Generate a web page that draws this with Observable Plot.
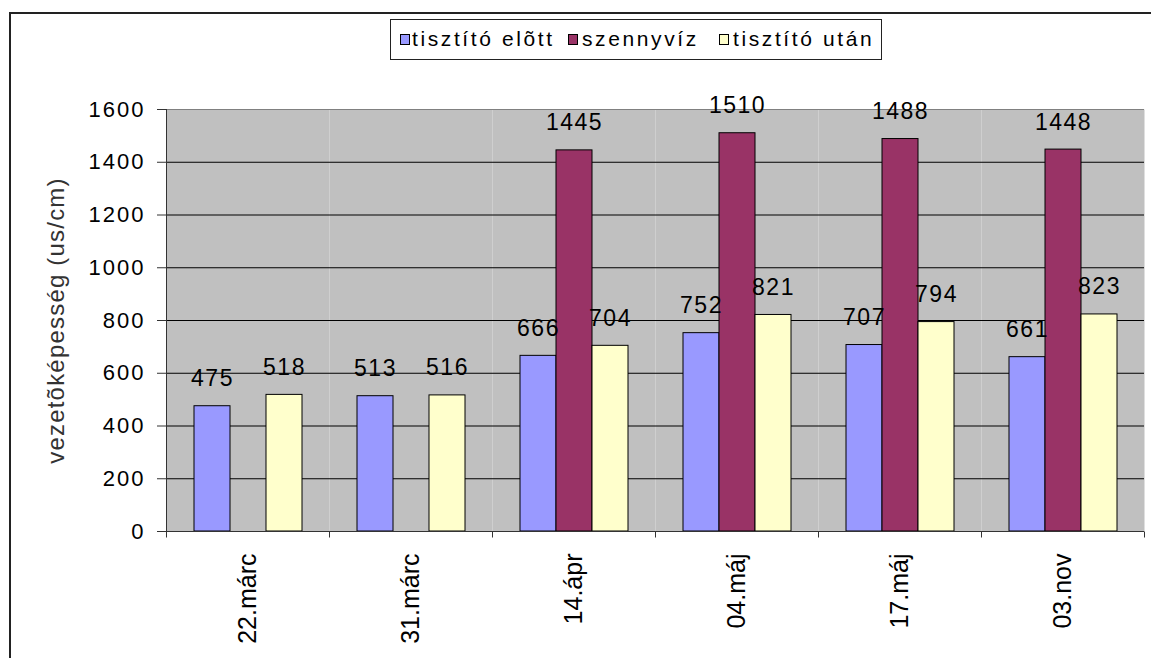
<!DOCTYPE html>
<html>
<head>
<meta charset="utf-8">
<script src="https://cdn.jsdelivr.net/npm/d3@7"></script>
<script src="https://cdn.jsdelivr.net/npm/@observablehq/plot@0.6"></script>
<style>
html, body { margin: 0; padding: 0; background: #fff; }
#wrap { position: relative; width: 1151px; height: 658px; overflow: hidden; font-family: "Liberation Sans", Arial, sans-serif; }
#border { position: absolute; left: 9px; top: 12px; width: 1200px; height: 700px; border: 2px solid #222; }
#chart { position: absolute; left: 0; top: 0; }
#legend { position: absolute; left: 390px; top: 19px; width: 492px; height: 41px; box-sizing: border-box; border: 1px solid #222; background: #fff; }
#legend .sw { position: absolute; top: 14px; width: 10px; height: 11px; box-sizing: border-box; border: 1px solid #000; }
#legend .tx { position: absolute; top: 7px; font-size: 21px; line-height: 24px; letter-spacing: 2.6px; color: #000; white-space: nowrap; }
g[aria-label="text"] text { letter-spacing: 1.5px; }
g[aria-label="y-axis tick label"] text { letter-spacing: 2px; }
g[aria-label="y-axis label"] text { letter-spacing: 1.2px; fill: #333; font-size: 24px; }
</style>
</head>
<body>
<div id="wrap">
  <div id="border"></div>
  <div id="chart"></div>
  <div id="legend"></div>
</div>
<script>
// ---- data ----
const dates = ["22.márc", "31.márc", "14.ápr", "04.máj", "17.máj", "03.nov"];
const series = ["tisztító elõtt", "szennyvíz", "tisztító után"];
const colors = ["#9999FF", "#993366", "#FFFFCC"];
const elott = [475, 513, 666, 752, 707, 661];
const szennyviz = [null, null, 1445, 1510, 1488, 1448];
const utan = [518, 516, 704, 821, 794, 823];
const yTicks = [0, 200, 400, 600, 800, 1000, 1200, 1400, 1600];
const yLabel = "vezetõképesség (us/cm)";

// ---- table built from the arrays ----
const table = [];
dates.forEach((date, i) => {
  [elott, szennyviz, utan].forEach((arr, s) => {
    if (arr[i] != null) table.push({date, series: series[s], value: arr[i]});
  });
});

const chart = Plot.plot({
  width: 1151,
  height: 658,
  marginLeft: 166,
  marginRight: 7,
  marginTop: 109,
  marginBottom: 127,
  style: {background: "transparent", fontFamily: '"Liberation Sans", Arial, sans-serif', color: "#000", overflow: "visible"},
  fx: {domain: dates, padding: 0, label: null},
  x: {domain: series, paddingInner: 0, paddingOuter: 0.75, axis: null},
  y: {domain: [0, 1600], label: null},
  color: {domain: series, range: colors},
  marks: [
    Plot.frame({fill: "#C0C0C0"}),
    Plot.ruleY(yTicks.filter(t => t > 0 && t < 1600), {stroke: "#000"}),
    Plot.ruleY([1600], {stroke: "#808080"}),
    Plot.barY(table, {fx: "date", x: "series", y: "value", fill: "series", stroke: "#000", strokeWidth: 1}),
    Plot.text([0], {
      facet: "super",
      frameAnchor: "middle",
      render: (index, scales) => {
        const fx = scales.fx, y = scales.y;
        const edges = dates.map(d => fx(d));
        edges.push(fx(dates[dates.length - 1]) + fx.bandwidth());
        const y0 = Math.round(y(0)) + 0.5;
        const yTop = y(1600);
        const g = d3.create("svg:g").attr("stroke", "#333").attr("fill", "none");
        g.append("line")
          .attr("x1", Math.round(edges[0]) + 0.5).attr("x2", Math.round(edges[0]) + 0.5)
          .attr("y1", yTop).attr("y2", y0);
        g.append("line")
          .attr("x1", edges[0]).attr("x2", edges[edges.length - 1])
          .attr("y1", y0).attr("y2", y0);
        g.selectAll("line.tk").data(edges).join("line").attr("class", "tk")
          .attr("x1", d => Math.round(d) + 0.5).attr("x2", d => Math.round(d) + 0.5)
          .attr("y1", y0).attr("y2", y0 + 6);
        return g.node();
      }
    }),
    Plot.text(table, {fx: "date", x: "series", y: "value", text: d => String(d.value), dy: -20, lineAnchor: "bottom", fontSize: 23, fill: "#000"}),
    Plot.axisY(yTicks, {
      tickSize: 9, tickPadding: 12, fontSize: 22, tickFormat: d => String(d), stroke: "#333",
      label: yLabel, labelAnchor: "center", labelArrow: "none", labelOffset: 120
    }),
    Plot.axisFx({anchor: "bottom", tickRotate: -90, tickSize: 0, tickPadding: 22, fontSize: 25, label: null})
  ]
});
document.getElementById("chart").appendChild(chart);

// ---- legend ----
const legend = d3.select("#legend");
const swLeft = [9, 177, 328];
const txLeft = [21, 191, 342];
series.forEach((s, i) => {
  legend.append("div").attr("class", "sw").style("left", swLeft[i] + "px").style("background", colors[i]);
  legend.append("div").attr("class", "tx").style("left", txLeft[i] + "px").text(s);
});
</script>
</body>
</html>
